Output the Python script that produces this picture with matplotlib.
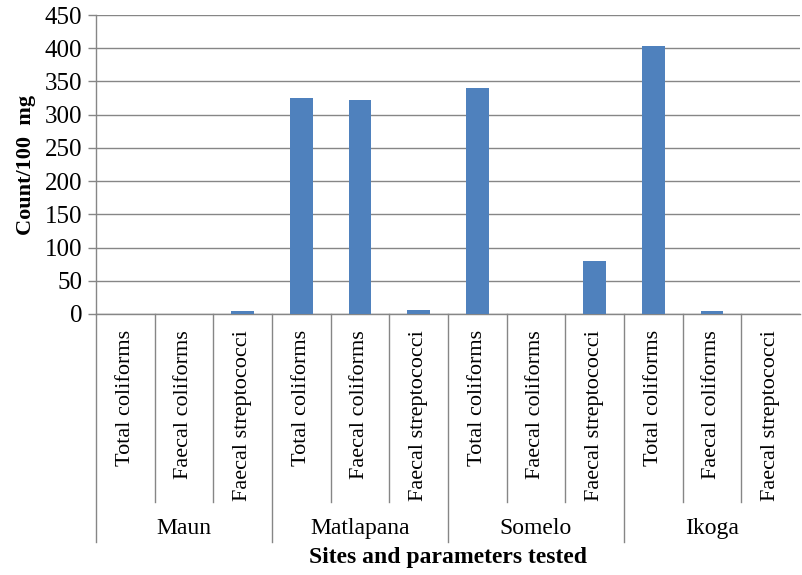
import numpy as np
import matplotlib
matplotlib.use("Agg")
import matplotlib.pyplot as plt

plt.rcParams["font.family"] = ["Liberation Serif", "DejaVu Serif"]

# Sites and the parameters measured at each one
sites = ["Maun", "Matlapana", "Somelo", "Ikoga"]
params = ["Total coliforms", "Faecal coliforms", "Faecal streptococci"]

# Counts per site, in the order of params
maun = [0, 0, 4]
matlapana = [325, 322, 6]
somelo = [340, 0, 80]
ikoga = [403, 4, 0]

values = maun + matlapana + somelo + ikoga
n = len(values)
x = np.arange(n) + 0.5

grid_col = "#868686"
bar_col = "#4F81BD"

fig = plt.figure(figsize=(8.03, 5.75), dpi=100)
ax = fig.add_axes([96 / 803, 1 - 314 / 575, 704 / 803, 299 / 575])

ax.bar(x, values, width=0.39, color=bar_col, zorder=3)

ax.set_xlim(0, n)
ax.set_ylim(0, 450)
ax.set_yticks(np.arange(0, 451, 50))
ax.yaxis.grid(True, color=grid_col, linewidth=1.0, zorder=0)
ax.set_xticks([])

for side in ["top", "right"]:
    ax.spines[side].set_visible(False)
for side in ["left", "bottom"]:
    ax.spines[side].set_color(grid_col)
    ax.spines[side].set_linewidth(1.0)

ax.tick_params(axis="y", length=6, width=1.0, color=grid_col, pad=4,
               labelsize=18)
ax.set_ylabel("Count/100  mg", fontsize=16, fontweight="bold", labelpad=6)

tr = ax.get_xaxis_transform()

# category separators and labels below the axis
for i in range(n):
    low = -0.763 if i % 3 == 0 else -0.629
    ax.plot([i, i], [0, low], transform=tr, color=grid_col, lw=1.0,
            clip_on=False)
for i in range(n):
    ax.text(i + 0.5, -0.0535, params[i % 3], transform=tr, rotation=90,
            ha="center", va="top", fontsize=16)

# site names under each group of three
for j, site in enumerate(sites):
    ax.text(3 * j + 1.5, -0.716, site, transform=tr, ha="center",
            va="center", fontsize=17)

ax.text(n / 2, -0.816, "Sites and parameters tested", transform=tr,
        ha="center", va="center", fontsize=17, fontweight="bold")

fig.savefig("out.png", dpi=100)
